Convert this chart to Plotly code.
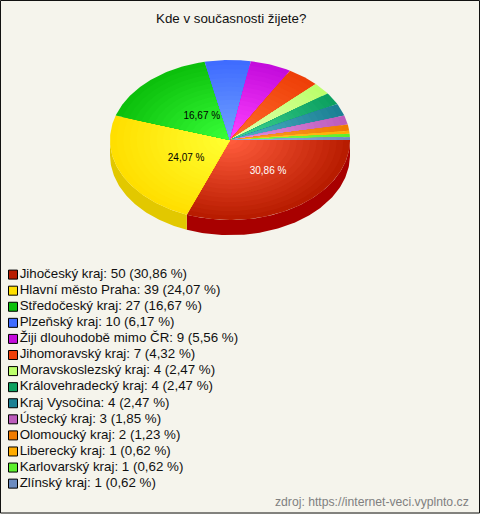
import math
import plotly.graph_objects as go

FONT = "Liberation Sans, Arial, sans-serif"
BG = "#f5f4ec"

title = "Kde v současnosti žijete?"
source = "zdroj: https://internet-veci.vyplnto.cz"
categories = ["Jihočeský kraj", "Hlavní město Praha", "Středočeský kraj", "Plzeňský kraj",
              "Žiji dlouhodobě mimo ČR", "Jihomoravský kraj", "Moravskoslezský kraj",
              "Královehradecký kraj", "Kraj Vysočina", "Ústecký kraj", "Olomoucký kraj",
              "Liberecký kraj", "Karlovarský kraj", "Zlínský kraj"]
counts = [50, 39, 27, 10, 9, 7, 4, 4, 4, 3, 2, 1, 1, 1]
percents = ["30,86", "24,07", "16,67", "6,17", "5,56", "4,32", "2,47",
            "2,47", "2,47", "1,85", "1,23", "0,62", "0,62", "0,62"]

outer = ["#b81c00", "#ffdf00", "#0cc00c", "#3f6cff", "#c40cdc", "#ee3f08", "#bcff6c",
         "#0ca060", "#1c8094", "#bc5cbc", "#f07c00", "#ffac00", "#5cf02c", "#6c8cc0"]
inner = ["#ff5c3c", "#ffff30", "#38ff38", "#70a0ff", "#ff40ff", "#ff6c2c", "#e4ffb4",
         "#40d494", "#50b4c8", "#e494e4", "#ffa030", "#ffd040", "#90ff60", "#a0c0f0"]
side = ["#a80000", "#e2c800", "#0a9a0a", "#3358cc", "#9c0ab0", "#bc3206", "#96cc56",
        "#0a804c", "#166676", "#964a96", "#c06400", "#cc8a00", "#4ac024", "#567099"]

RINGS = 18
DEPTH = 0.19
total = sum(counts)


def rgb(h):
    return [int(h[i:i + 2], 16) for i in (1, 3, 5)]


def mix(a, b, t):
    ca, cb = rgb(a), rgb(b)
    return "rgb(%d,%d,%d)" % tuple(round(x + (y - x) * t) for x, y in zip(ca, cb))


def arc(a0, a1, r=1.0, dy=0.0):
    n = max(2, int(abs(a1 - a0) * 60))
    angs = [a0 + (a1 - a0) * i / n for i in range(n + 1)]
    return [r * math.cos(a) for a in angs], [-r * math.sin(a) - dy for a in angs]


fig = go.Figure()
angles = [0.0]
for c in counts:
    angles.append(angles[-1] + c / total * 2 * math.pi)

# side wall
for i in range(len(counts)):
    a0, a1 = angles[i], min(angles[i + 1], math.pi)
    if a0 >= math.pi:
        continue
    xt, yt = arc(a0, a1)
    xb, yb = arc(a1, a0, dy=DEPTH)
    fig.add_trace(go.Scatter(x=xt + xb + [xt[0]], y=yt + yb + [yt[0]], mode="lines", fill="toself",
                             fillcolor=side[i], line=dict(width=0, color=side[i]),
                             hoverinfo="skip", showlegend=False))

# top face
for i in range(len(counts)):
    for k in range(RINGS):
        t = k / (RINGS - 1)
        r = 1 - 0.94 * t
        xa, ya = arc(angles[i], angles[i + 1], r=r)
        fig.add_trace(go.Scatter(x=[0] + xa + [0], y=[0] + ya + [0], mode="lines", fill="toself",
                                 fillcolor=mix(outer[i], inner[i], t), line=dict(width=0, color=outer[i]),
                                 hoverinfo="skip", showlegend=False))

# percent labels on big slices
label_radius = [0.51, 0.43, 0.38]
label_shift = [-0.07, -0.11, 0.07]
label_color = ["white", "black", "black"]
for i in range(3):
    m = (angles[i] + angles[i + 1]) / 2 + label_shift[i]
    fig.add_trace(go.Scatter(x=[label_radius[i] * math.cos(m)], y=[-label_radius[i] * math.sin(m)],
                             mode="text", text=[percents[i] + " %"], textposition="middle center",
                             textfont=dict(family=FONT, size=10, color=label_color[i]),
                             hoverinfo="skip", showlegend=False))

# legend rows
rows = list(range(len(categories)))
fig.add_trace(go.Scatter(x=[0] * len(rows), y=rows, xaxis="x2", yaxis="y2", mode="markers+text",
                         marker=dict(symbol="square", size=9, color=outer,
                                     line=dict(color="black", width=1)),
                         text=[f"{c}: {n} ({p} %)" for c, n, p in zip(categories, counts, percents)],
                         textposition="middle right",
                         textfont=dict(family=FONT, size=13.33, color="#111111"),
                         hoverinfo="skip", showlegend=False))

hidden = dict(visible=False, fixedrange=True, showgrid=False, zeroline=False)
fig.update_layout(
    width=480, height=514, margin=dict(l=0, r=0, t=0, b=0), autosize=False,
    paper_bgcolor=BG, plot_bgcolor=BG, showlegend=False,
    xaxis=dict(range=[-230 / 120, 250 / 120], domain=[0, 1], **hidden),
    yaxis=dict(range=[-(514 - 140) / 80, 140 / 80], domain=[0, 1], **hidden),
    xaxis2=dict(range=[-13, 467], domain=[0, 1], overlaying="x", **hidden),
    yaxis2=dict(range=[(514 - 274.6) / 16.08, -274.6 / 16.08], domain=[0, 1], overlaying="y", anchor="x2", **hidden),
    annotations=[
        dict(text=title, x=231 / 480, y=1 - 19 / 514, xref="paper", yref="paper", showarrow=False,
             xanchor="center", yanchor="middle", font=dict(family=FONT, size=13.33, color="#111111")),
        dict(text=source, x=1 - 9 / 480, y=1 - 502 / 514, xref="paper", yref="paper", showarrow=False,
             xanchor="right", yanchor="middle", font=dict(family=FONT, size=12.2, color="#808080")),
    ],
    shapes=[
        dict(type="rect", xref="paper", yref="paper", x0=0.5 / 480, x1=479.5 / 480, y0=1 / 514, y1=513.5 / 514,
             line=dict(color="#111111", width=1), fillcolor="rgba(0,0,0,0)"),
    ],
)
fig.write_html("out.html", config=dict(displayModeBar=False, staticPlot=True),
               post_script="document.body.style.margin='0';document.body.style.background='%s';" % BG)
